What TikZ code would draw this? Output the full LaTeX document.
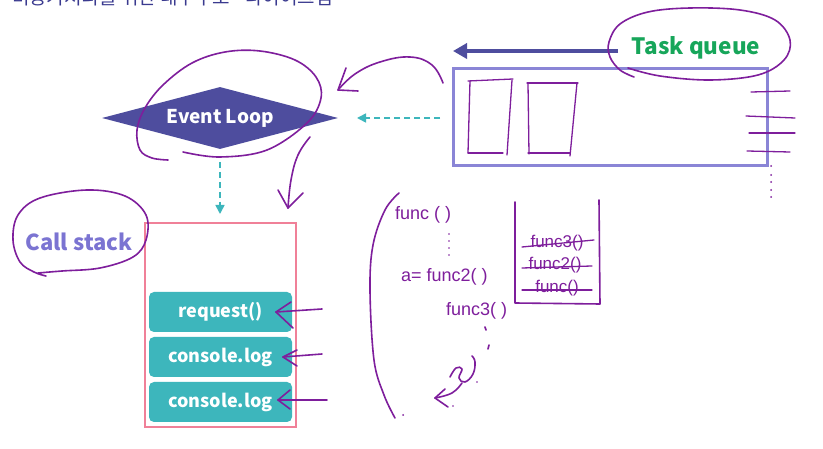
\documentclass[tikz,border=0pt]{standalone}
\usepackage{fontspec}
\setmainfont{Noto Sans CJK KR}
\newfontfamily\handfont{Liberation Sans}
\usetikzlibrary{shapes.geometric,arrows.meta}
\definecolor{indigo}{RGB}{78,77,158}
\definecolor{tqline}{RGB}{138,133,214}
\definecolor{tealc}{RGB}{61,182,188}
\definecolor{pinkc}{RGB}{240,128,152}
\definecolor{greenc}{RGB}{23,166,90}
\definecolor{cstext}{RGB}{123,116,210}
\definecolor{handc}{RGB}{126,30,156}
\definecolor{titlec}{RGB}{58,58,143}
\tikzset{
  hand/.style={draw=handc,line width=1.6pt,line cap=round,line join=round},
  handtext/.style={text=handc,font=\handfont\fontsize{18}{18}\selectfont,inner sep=0pt},
  minitext/.style={text=handc,font=\handfont\fontsize{17}{17}\selectfont,inner sep=0pt},
  tealdash/.style={draw=tealc,line width=1.6pt,dash pattern=on 6pt off 4pt,-{Triangle[length=9pt,width=9pt]}},
  stackitem/.style={fill=tealc,rounded corners=5pt,minimum width=143pt,minimum height=40pt,text=white,font=\bfseries\fontsize{18}{18}\selectfont,inner sep=0pt}
}
\begin{document}
\begin{tikzpicture}[x=1pt,y=-1pt]
\clip (0,0) rectangle (823,449);
\fill[white] (0,0) rectangle (823,449);
% title (cut off at the top edge, as in the reference)
\node[anchor=base east,text=titlec,font=\fontsize{19}{19}\selectfont,inner sep=0pt] (title) at (333,5) {비동기처리를 위한 내부구조 - 다이어그램};
% Event loop
\node[diamond,aspect=3.8,fill=indigo,text=white,font=\bfseries\fontsize{19}{19}\selectfont,minimum width=236pt,minimum height=62pt,inner sep=0pt] (el) at (220,118) {Event Loop};
% task queue
\draw[tqline,line width=3pt] (453,69) rectangle (767,166);
\node[text=greenc,font=\bfseries\fontsize{22.5}{22.5}\selectfont,inner sep=0pt] (tq) at (696,48) {Task queue};
\coordinate (tqarrowstart) at (618,51);
\coordinate (tqarrowend) at (453,51);
\draw[indigo,line width=3.5pt,-{Triangle[length=14pt,width=15pt]}] (tqarrowstart) -- (tqarrowend);
% teal dashed arrows
\coordinate (dashstart) at (440,118);
\coordinate (dashend) at (357,118);
\draw[tealdash] (dashstart) -- (dashend);
\coordinate (vdashstart) at (220,162);
\coordinate (vdashend) at (220,214);
\draw[tealdash] (vdashstart) -- (vdashend);
% call stack
\draw[pinkc,line width=2.5pt] (145,223) rectangle (296,427);
\node[text=cstext,font=\bfseries\fontsize{22}{22}\selectfont,inner sep=0pt] (cs) at (79,242) {Call stack};
\node[stackitem] (s1) at (220.5,312) {request()};
\node[stackitem] (s2) at (220.5,357) {console.log};
\node[stackitem] (s3) at (220.5,402) {console.log};
% ---- handwritten annotations ----
% loop around Event Loop
\draw[hand] plot[smooth,tension=0.6] coordinates{(183,152)(220,157)(267,150)(307,123)(321,98)(316,77)(295,60)(260,51)(225,52)(192,63)(163,85)(145,108)(137,130)(140,150)(152,158)(168,160)};
% arrow task queue -> event loop
\draw[hand] plot[smooth,tension=0.7] coordinates{(443,83)(432,65)(410,57)(380,62)(355,74)(338,90)};
\draw[hand] (346,68) -- (338,90) -- (358,91);
% arrow event loop -> call stack
\draw[hand] plot[smooth,tension=0.7] coordinates{(310,137)(298,155)(291,180)(288,208)};
\draw[hand] (278,190) -- (288,208) -- (303,193);
% loop around Task queue
\draw[hand] plot[smooth,tension=0.6] coordinates{(634,77)(620,70)(610,57)(609,42)(620,24)(648,12)(690,8)(740,10)(775,20)(790,40)(784,60)(758,75)(710,80)(660,76)(628,68)};
% loop around Call stack
\draw[hand] plot[smooth,tension=0.6] coordinates{(46,276)(34,272)(20,262)(13,240)(18,215)(40,198)(87,190)(125,196)(146,215)(146,240)(133,257)(100,268)(62,271)(38,273)};
% arrows into stack items
\draw[hand] (322,309) -- (276,312);
\draw[hand] (291,302) -- (276,312) -- (293,328);
\draw[hand] (322,354) -- (283,357);
\draw[hand] (297,350) -- (283,357) -- (297,366);
\draw[hand] (327,400) -- (278,400);
\draw[hand] (290,390) -- (278,400) -- (290,409);
% sketches inside task queue
\draw[hand,line width=1.3pt] (468,81) -- (513,79);
\draw[hand,line width=1.3pt] (470,81) -- (468,153);
\draw[hand,line width=1.3pt] (512,80) -- (507,155);
\draw[hand,line width=1.3pt] (468,153) -- (503,153);
\draw[hand,line width=1.3pt] (527,83) -- (578,83);
\draw[hand,line width=1.3pt] (528,83) -- (529,154);
\draw[hand,line width=1.3pt] (577,83) -- (570,156);
\draw[hand,line width=1.3pt] (528,153) -- (570,153);
\draw[hand,line width=1.3pt] (751,92) -- (790,91);
\draw[hand,line width=1.3pt] (746,116) -- (795,118);
\draw[hand,line width=1.3pt] (749,133) -- (795,133);
\draw[hand,line width=1.3pt] (747,151) -- (790,152);
\foreach \yy in {166,175,182,190,197} \fill[handc] (771,\yy) circle (1pt);
% big bracket
\draw[hand] plot[smooth,tension=0.6] coordinates{(399,193)(385,210)(373,245)(370,290)(374,360)(384,395)(395,418)};
\fill[handc] (403,415) circle (1pt);
% code text
\node[handtext,anchor=west] (f1) at (395,215) {func ( )};
\node[handtext,anchor=west] (f2) at (401,277) {a= func2( )};
\node[handtext,anchor=west] (f3) at (446,311) {func3( )};
\foreach \yy in {234,241,248,255} \fill[handc] (449,\yy) circle (0.9pt);
\draw[hand] (485,327) -- (486,330);
\draw[hand] (489,345) -- (488,349);
% curl and arrow
\draw[hand] plot[smooth,tension=0.7] coordinates{(450,377)(456,368)(462,369)(459,378)(465,382)(473,374)(475,362)(472,356)};
\draw[hand] plot[smooth,tension=0.7] coordinates{(462,383)(452,393)(435,398)};
\draw[hand] (445,389) -- (435,398) -- (448,407);
\fill[handc] (477,382) circle (0.9pt);
\fill[handc] (453,406) circle (0.9pt);
% mini stack box
\draw[hand] (515,202) -- (515,303) -- (600,304) -- (599,200);
\node[minitext] (g1) at (557,243) {func3()};
\node[minitext] (g2) at (555,265) {func2()};
\node[minitext] (g3) at (557,288) {func()};
\draw[hand,line width=1.3pt] (522,247) -- (594,240);
\draw[hand,line width=1.3pt] (522,268) -- (592,266);
\draw[hand,line width=1.3pt] (522,290) -- (592,290);
\end{tikzpicture}
\end{document}
